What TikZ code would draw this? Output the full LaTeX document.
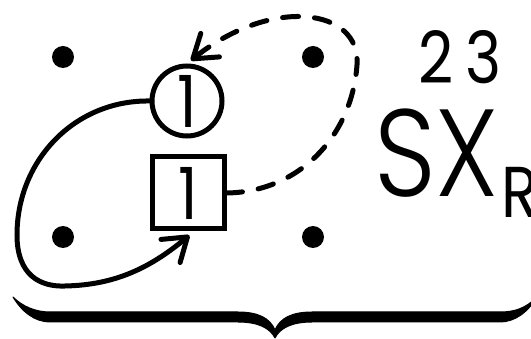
\documentclass[tikz,border=0pt]{standalone}
\usepackage{graphicx}
\usepackage{fontspec}
\setmainfont{Poppins}
\newfontfamily\lightfont{Poppins}[UprightFont=* Light]
\usetikzlibrary{arrows.meta}
\newcommand\numfont{\fontsize{72}{78}\selectfont}
\newcommand\bigfont{\lightfont\fontsize{124}{130}\selectfont}
\newcommand\narrow[2][0.85]{\scalebox{#1}[1]{#2}}
\tikzset{
  node-dot/.style={circle,fill=black,minimum size=22pt,inner sep=0pt},
  node-circ/.style={draw,circle,line width=5pt,minimum size=70pt,inner sep=0pt,font=\numfont},
  node-square/.style={draw,line width=5pt,minimum size=72pt,inner sep=0pt,font=\numfont},
  node-label/.style={anchor=base west,inner sep=0pt},
  arrow/.style={-{Straight Barb[length=22pt,width=30pt,round]},line width=5pt,line cap=round},
  arrow-dashed/.style={arrow,dash pattern=on 16pt off 16pt},
}

\begin{document}
\begin{tikzpicture}[x=1pt,y=-1pt]
  \useasboundingbox (0,0) rectangle (531,339);
  \clip (0,0) rectangle (531,339);
  \node[node-dot] (d-tl) at (63,57)  {};
  \node[node-dot] (d-tr) at (313,57) {};
  \node[node-dot] (d-bl) at (63,237) {};
  \node[node-dot] (d-br) at (313,237) {};
  \node[node-circ]   (one-c) at (187,101) {\narrow{1}};
  \node[node-square] (one-s) at (188,193) {\narrow{1}};
  \node[node-label,font=\bigfont] (sx)  at (374,197) {\narrow[0.87]{SX}};
  \node[node-label,font=\numfont] (sup) at (418,84)  {\narrow{2\hspace{14pt}3}};
  \node[node-label,font=\numfont] (sub) at (501,218) {\narrow{R}};
  \draw[arrow,shorten >=6pt] (one-c.west) .. controls (75,100) and (17,160) .. (17,235)
    .. controls (17,275) and (40,287) .. (65,286)
    .. controls (115,285) and (150,268) .. ([xshift=6pt]one-s.south);
  \draw[arrow-dashed,shorten >=5pt] (one-s.east) .. controls (300,192) and (352,135) .. (357,65)
    .. controls (361,8) and (272,-4) .. (one-c.north);
  % brace
  \fill[draw,line width=1pt,line join=round]
    (13,297) .. controls (22,312) and (35,322) .. (50,322) -- (238,322)
    .. controls (258,322) and (270,328) .. (275,338)
    .. controls (280,328) and (292,322) .. (312,322) -- (500,322)
    .. controls (515,322) and (528,312) .. (537,297)
    .. controls (526,308) and (515,312) .. (500,312) -- (312,312)
    .. controls (292,312) and (280,318) .. (275,330)
    .. controls (270,318) and (258,312) .. (238,312) -- (50,312)
    .. controls (35,312) and (22,306) .. cycle;
\end{tikzpicture}
\end{document}
